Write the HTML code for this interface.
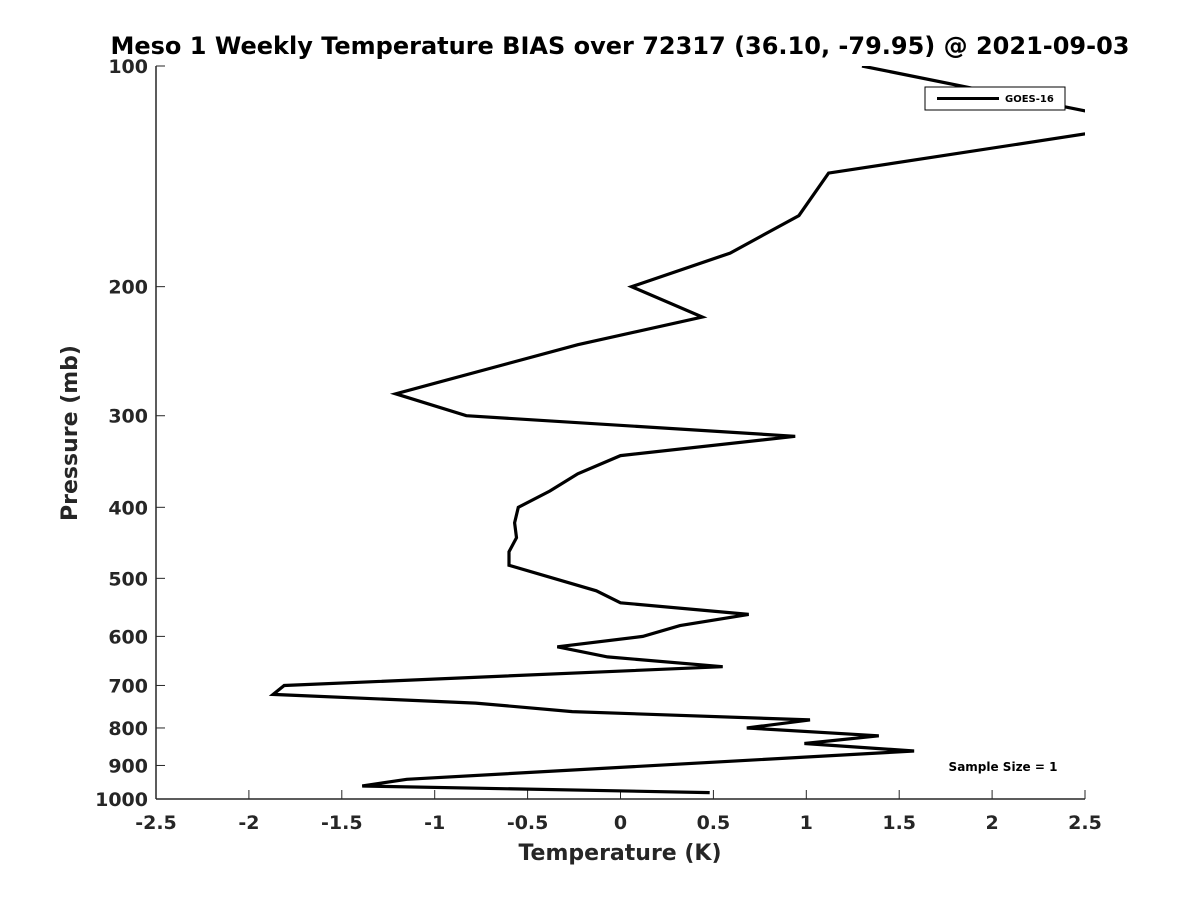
<!DOCTYPE html>
<html><head><meta charset="utf-8"><style>
body{margin:0;background:#fff;font-family:"Liberation Sans","DejaVu Sans",sans-serif}
svg text{font-family:"DejaVu Sans","Liberation Sans",sans-serif;font-weight:bold;fill:#262626}
</style></head><body>
<svg id="chart" width="1200" height="900" viewBox="0 0 1200 900" xmlns="http://www.w3.org/2000/svg">
<defs><clipPath id="plotclip"><rect x="156" y="66" width="929" height="733"/></clipPath></defs>
<text x="620" y="54" font-size="24" text-anchor="middle" style="fill:#000">Meso 1 Weekly Temperature BIAS over 72317 (36.10, -79.95) @ 2021-09-03</text>
<g id="axes"></g>
<path id="series" clip-path="url(#plotclip)" fill="none" stroke="#000" stroke-width="3.2" stroke-linejoin="miter"/>
<text x="620" y="860" font-size="22" text-anchor="middle">Temperature (K)</text>
<text transform="translate(77,433) rotate(-90)" font-size="22" text-anchor="middle">Pressure (mb)</text>
<g>
<rect x="925" y="87" width="140" height="23" fill="#fff" stroke="#000" stroke-width="1"/>
<line x1="937" y1="98.5" x2="999" y2="98.5" stroke="#000" stroke-width="3"/>
<text x="1005" y="102" font-size="10" style="fill:#000">GOES-16</text>
</g>
<text x="1003" y="771" font-size="12" text-anchor="middle" style="fill:#000">Sample Size = 1</text>
</svg>
<script>
const pressures=[100,120,140,160,180,200,220,240,280,300,320,340,360,380,400,420,440,460,480,520,540,560,580,600,620,640,660,700,720,740,760,780,800,820,840,860,940,960,980];
const biases=[1.30,2.85,1.12,0.96,0.59,0.06,0.44,-0.23,-1.21,-0.83,0.94,0,-0.23,-0.38,-0.55,-0.57,-0.56,-0.6,-0.6,-0.13,0,0.69,0.32,0.12,-0.34,-0.07,0.55,-1.81,-1.87,-0.78,-0.26,1.02,0.68,1.39,0.99,1.58,-1.15,-1.39,0.48];
const xTicks=[-2.5,-2,-1.5,-1,-0.5,0,0.5,1,1.5,2,2.5];
const xTickLabels=["-2.5","-2","-1.5","-1","-0.5","0","0.5","1","1.5","2","2.5"];
const yTicks=[100,200,300,400,500,600,700,800,900,1000];
const yTickLabels=["100","200","300","400","500","600","700","800","900","1000"];
const X0=156,X1=1085,Y0=66,Y1=799;
function xs(v){return X0+(v+2.5)/5*(X1-X0);}
function ys(p){return Y0+(Math.log10(p)-2)*(Y1-Y0);}
const NS="http://www.w3.org/2000/svg";
const ax=document.getElementById('axes');
function mk(tag,at){const e=document.createElementNS(NS,tag);for(const k in at)e.setAttribute(k,at[k]);return e;}
let l=mk('line',{x1:X0,y1:Y1,x2:X1,y2:Y1,stroke:'#262626','stroke-width':1.5});


ax.appendChild(l);
l=mk('line',{x1:X0,y1:Y0,x2:X0,y2:Y1,stroke:'#262626','stroke-width':1.5});


ax.appendChild(l);
xTicks.forEach((v,i)=>{
 const t=mk('line',{x1:xs(v),y1:Y1,x2:xs(v),y2:Y1-9,stroke:'#262626','stroke-width':1});
 
 
 ax.appendChild(t);
 const tx=mk('text',{x:xs(v),y:Y1+30,'font-size':19,'text-anchor':'middle'});
 
 
 tx.textContent=xTickLabels[i];ax.appendChild(tx);
});
yTicks.forEach((p,i)=>{
 const t=mk('line',{x1:X0,y1:ys(p),x2:X0+9,y2:ys(p),stroke:'#262626','stroke-width':1});
 
 
 ax.appendChild(t);
 const tx=mk('text',{x:X0-8,y:ys(p)+7,'font-size':19,'text-anchor':'end'});
 
 
 tx.textContent=yTickLabels[i];ax.appendChild(tx);
});
document.getElementById('series').setAttribute('d',pressures.map((p,i)=>(i?'L':'M')+xs(biases[i]).toFixed(1)+','+ys(p).toFixed(1)).join(' '));
</script>
</body></html>
